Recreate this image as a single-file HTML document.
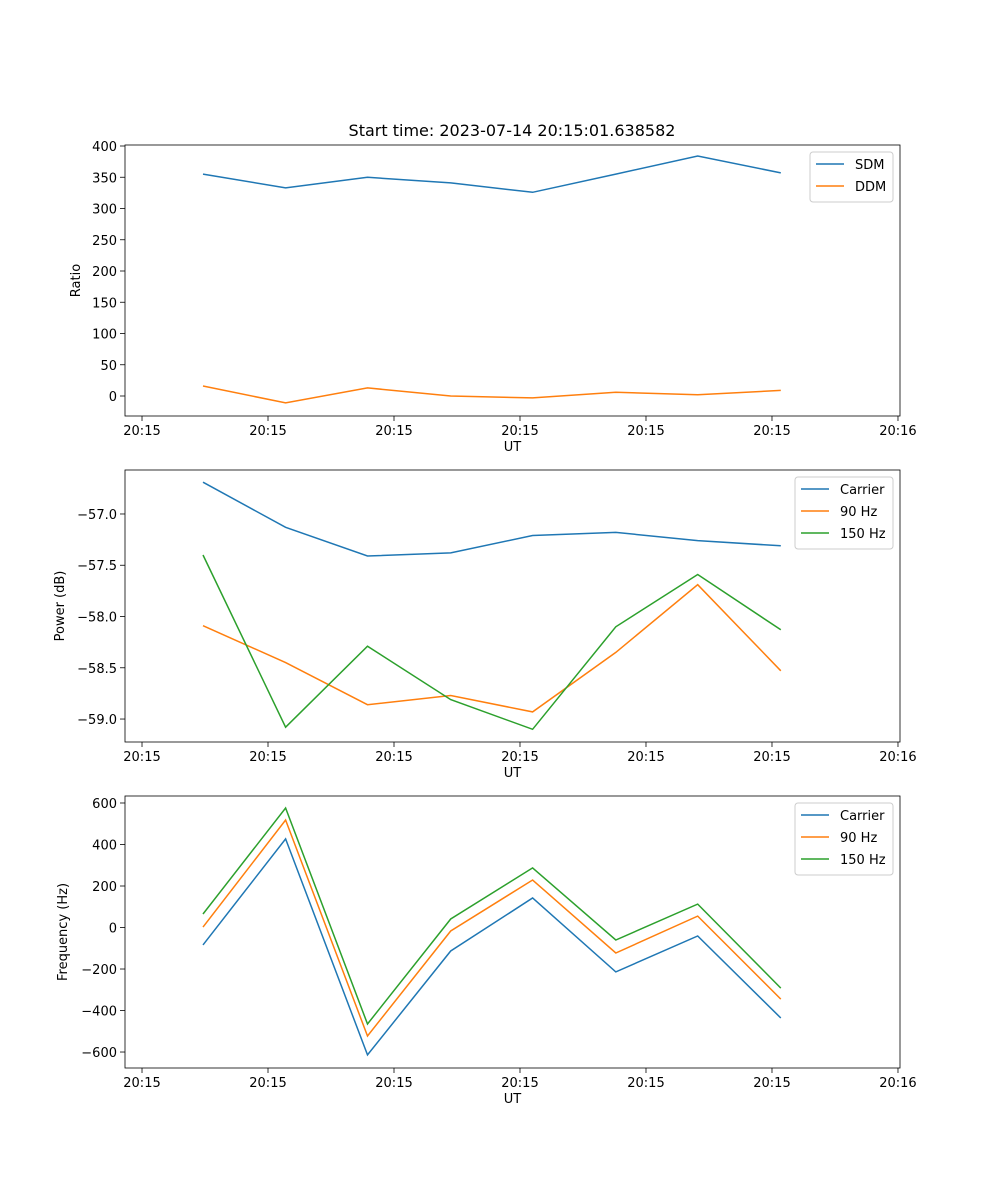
<!DOCTYPE html>
<html><head><meta charset="utf-8">
<style>
html,body{margin:0;padding:0;background:#fff;}
svg{display:block;font-family:"DejaVu Sans","Liberation Sans",sans-serif;}
</style></head>
<body>
<svg id="fig" width="1000" height="1200" viewBox="0 0 1000 1200">
<rect width="1000" height="1200" fill="#fff"/>
<text x="512" y="136" font-size="16" text-anchor="middle">Start time: 2023-07-14 20:15:01.638582</text>
</svg>
<script>
// shared x data (seconds after 20:15:00)
const times = [4.84, 11.4, 17.9, 24.5, 31.0, 37.6, 44.1, 50.7];
const xTickValues = [0, 10, 20, 30, 40, 50, 60];
const xTickLabels = ["20:15","20:15","20:15","20:15","20:15","20:15","20:16"];
// panel 1
const ratioSDM = [355, 333, 350, 341, 326, 355, 384, 357];
const ratioDDM = [16, -11, 13, 0, -3, 6, 2, 9];
const ratioTicks = [0, 50, 100, 150, 200, 250, 300, 350, 400];
// panel 2
const powerCarrier = [-56.69, -57.13, -57.41, -57.38, -57.21, -57.18, -57.26, -57.31];
const power90 = [-58.09, -58.45, -58.86, -58.77, -58.93, -58.35, -57.69, -58.53];
const power150 = [-57.40, -59.08, -58.29, -58.81, -59.10, -58.10, -57.59, -58.13];
const powerTicks = [-59.0, -58.5, -58.0, -57.5, -57.0];
const powerTickLabels = ["\u221259.0","\u221258.5","\u221258.0","\u221257.5","\u221257.0"];
// panel 3
const freqCarrier = [-84, 427, -614, -113, 142, -214, -41, -436];
const freq90 = [2, 518, -523, -17, 229, -123, 55, -345];
const freq150 = [65, 576, -465, 41, 287, -60, 113, -292];
const freqTicks = [-600, -400, -200, 0, 200, 400, 600];
const freqTickLabels = ["\u2212600","\u2212400","\u2212200","0","200","400","600"];

const NS = "http://www.w3.org/2000/svg";
const svg = document.getElementById('fig');
const L = 125, R = 900, X0 = -1.35, X1 = 60.16;
function xs(v){ return L + (v - X0) / (X1 - X0) * (R - L); }
function mk(tag, attrs, parent){
  const e = document.createElementNS(NS, tag);
  for (const k in attrs) e.setAttribute(k, attrs[k]);
  (parent || svg).appendChild(e);
  return e;
}
const COLORS = ["#1f77b4", "#ff7f0e", "#2ca02c"];

function panel(name, top, bot, y0, y1, yTicks, yLabels, yTitle, series, names, legendX, legendW){
  const g = mk('g', {});
  
  
  const ys = v => bot - (v - y0) / (y1 - y0) * (bot - top);
  // x ticks
  xTickValues.forEach((t, i) => {
    const x = xs(t);
    const ln = mk('line', {x1:x, x2:x, y1:bot, y2:bot+5, stroke:'#000', 'stroke-width':0.8}, g);
    
    
    const tx = mk('text', {x:x, y:bot+19, 'font-size':13, 'text-anchor':'middle'}, g);
    
    
    tx.textContent = xTickLabels[i];
  });
  const xt = mk('text', {x:(L+R)/2, y:bot+35, 'font-size':13, 'text-anchor':'middle'}, g);
  
  
  xt.textContent = 'UT';
  // y ticks
  yTicks.forEach((t, i) => {
    const y = ys(t);
    const ln = mk('line', {x1:L-5, x2:L, y1:y, y2:y, stroke:'#000', 'stroke-width':0.8}, g);
    
    
    const tx = mk('text', {x:L-8, y:y+5, 'font-size':13, 'text-anchor':'end'}, g);
    
    
    tx.textContent = yLabels[i];
  });
  const yt = mk('text', {x:0, y:0, 'font-size':13, 'text-anchor':'middle',
    transform:'translate(' + (yTitle.x) + ',' + ((top+bot)/2) + ') rotate(-90)'}, g);
  
  
  yt.textContent = yTitle.text;
  // series
  series.forEach((s, si) => {
    const pts = s.map((v, i) => xs(times[i]).toFixed(1) + ',' + ys(v).toFixed(1)).join(' ');
    const pl = mk('polyline', {points:pts, fill:'none', stroke:COLORS[si], 'stroke-width':1.5}, g);
    
    
  });
  // frame
  const fr = mk('rect', {x:L, y:top, width:R-L, height:bot-top, fill:'none', stroke:'#000', 'stroke-width':0.8}, g);
  
  
  // legend
  const lg = mk('g', {}, g);
  
  
  const lh = names.length * 22 + 6;
  mk('rect', {x:legendX, y:top+7, width:legendW, height:lh, rx:3, fill:'#fff', stroke:'#ccc', 'stroke-width':1}, lg);
  names.forEach((n, i) => {
    const y = top + 7 + 12 + i * 22;
    const ent = mk('g', {}, lg);
    
    
    mk('line', {x1:legendX+6, x2:legendX+34, y1:y, y2:y, stroke:COLORS[i], 'stroke-width':1.5}, ent);
    const t = mk('text', {x:legendX+45, y:y+5, 'font-size':13}, ent);
    t.textContent = n;
  });
}

panel('ratio-panel', 145, 416, -32, 401.6, ratioTicks, ratioTicks.map(String),
  {x:80, text:'Ratio'}, [ratioSDM, ratioDDM], ['SDM','DDM'], 810, 83);
panel('power-panel', 470, 742, -59.224, -56.571, powerTicks, powerTickLabels,
  {x:64, text:'Power (dB)'}, [powerCarrier, power90, power150], ['Carrier','90 Hz','150 Hz'], 795, 98);
panel('frequency-panel', 796, 1068, -677, 633.7, freqTicks, freqTickLabels,
  {x:67, text:'Frequency (Hz)'}, [freqCarrier, freq90, freq150], ['Carrier','90 Hz','150 Hz'], 795, 98);
</script>
</body></html>
